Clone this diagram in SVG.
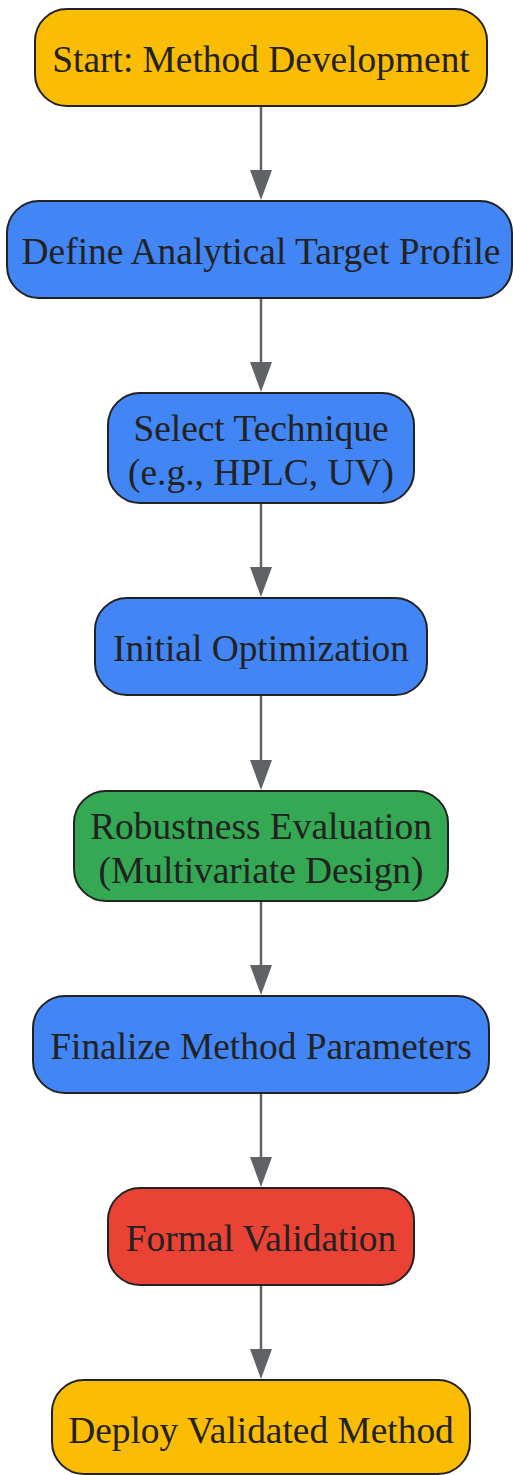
<svg xmlns="http://www.w3.org/2000/svg" width="513" height="1475" viewBox="0 0 513 1475">
<defs>
<style>
.n{stroke:#222222;stroke-width:2}
.y{fill:#FBBC04}.b{fill:#4285F4}.g{fill:#34A853}.r{fill:#EA4335}
.t{font-family:"Liberation Serif","Times New Roman",serif;font-size:37.4px;fill:#222222;text-anchor:middle}
.e{stroke:#5F6368;stroke-width:2.5;fill:none}
</style>
</defs>
<rect width="513" height="1475" fill="#ffffff"/>
<g id="connectors">
<line class="e" x1="261" y1="106" x2="261" y2="170"/><path d="M250,170 L272,170 L261,200 Z" fill="#5F6368"/>
<line class="e" x1="261" y1="298" x2="261" y2="362"/><path d="M250,362 L272,362 L261,392 Z" fill="#5F6368"/>
<line class="e" x1="261" y1="503" x2="261" y2="567"/><path d="M250,567 L272,567 L261,597 Z" fill="#5F6368"/>
<line class="e" x1="261" y1="695" x2="261" y2="760"/><path d="M250,760 L272,760 L261,790 Z" fill="#5F6368"/>
<line class="e" x1="261" y1="901" x2="261" y2="965"/><path d="M250,965 L272,965 L261,995 Z" fill="#5F6368"/>
<line class="e" x1="261" y1="1093" x2="261" y2="1157"/><path d="M250,1157 L272,1157 L261,1187 Z" fill="#5F6368"/>
<line class="e" x1="261" y1="1285" x2="261" y2="1349"/><path d="M250,1349 L272,1349 L261,1379 Z" fill="#5F6368"/>
</g>
<g id="start">
<rect class="n y" x="35" y="9" width="452" height="97" rx="32"/>
<text class="t" x="261" y="72">Start: Method Development</text>
</g>
<g id="define">
<rect class="n b" x="7" y="201" width="505" height="97" rx="32"/>
<text class="t" x="261" y="264">Define Analytical Target Profile</text>
</g>
<g id="select">
<rect class="n b" x="108" y="393" width="306" height="110" rx="32"/>
<text class="t" x="261" y="441">Select Technique</text>
<text class="t" x="261" y="485">(e.g., HPLC, UV)</text>
</g>
<g id="initial">
<rect class="n b" x="95" y="598" width="332" height="97" rx="32"/>
<text class="t" x="261" y="661">Initial Optimization</text>
</g>
<g id="robust">
<rect class="n g" x="74" y="791" width="374" height="110" rx="32"/>
<text class="t" x="261" y="839">Robustness Evaluation</text>
<text class="t" x="261" y="883">(Multivariate Design)</text>
</g>
<g id="finalize">
<rect class="n b" x="33" y="996" width="456" height="97" rx="32"/>
<text class="t" x="261" y="1059">Finalize Method Parameters</text>
</g>
<g id="formal">
<rect class="n r" x="108" y="1188" width="306" height="97" rx="32"/>
<text class="t" x="261" y="1251">Formal Validation</text>
</g>
<g id="deploy">
<rect class="n y" x="52" y="1380" width="418" height="94" rx="32"/>
<text class="t" x="261" y="1443">Deploy Validated Method</text>
</g>
</svg>
